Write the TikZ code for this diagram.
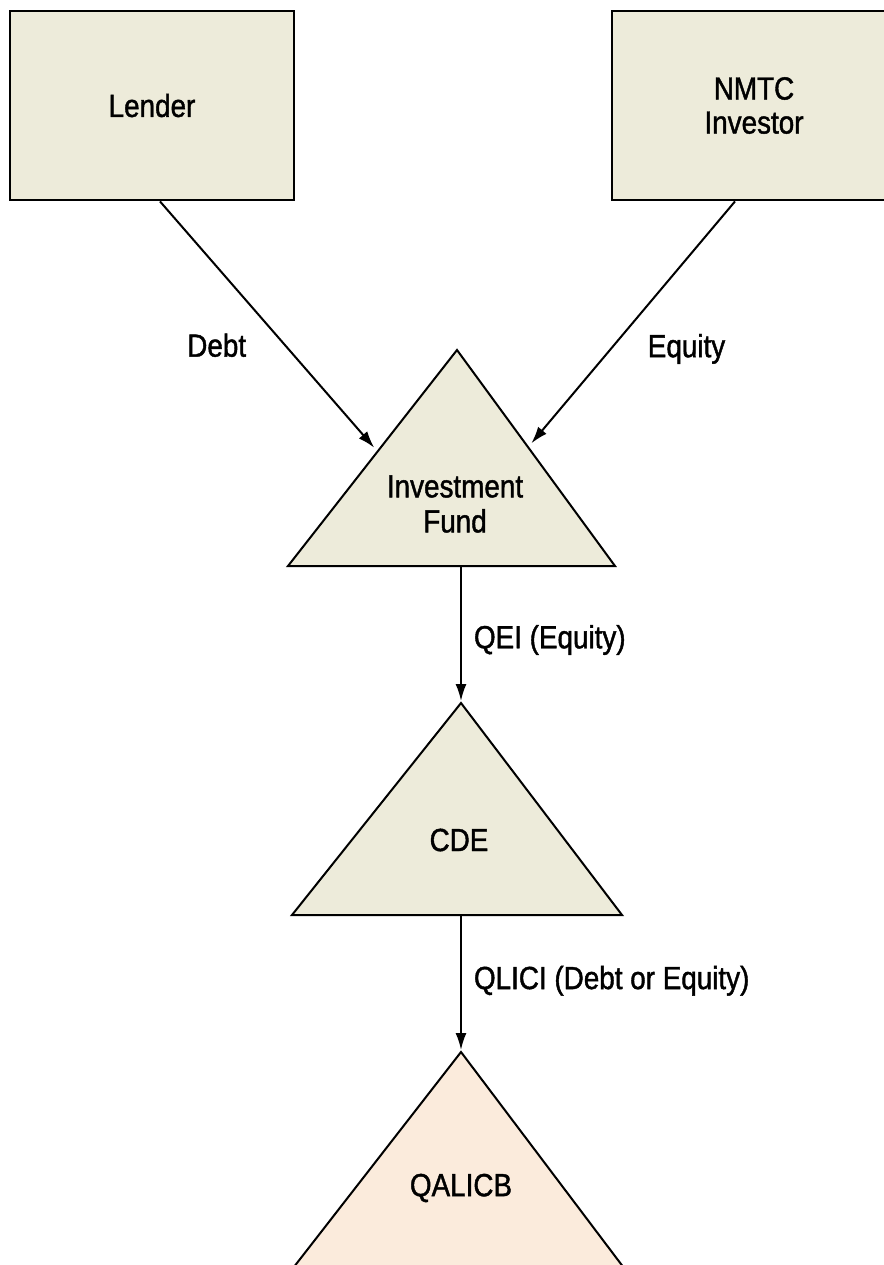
\documentclass[tikz,border=0pt]{standalone}
\usepackage{fontspec}
\setmainfont[FakeStretch=0.87,FakeBold=1.3]{Liberation Sans}
\usetikzlibrary{arrows.meta,calc,positioning}
\definecolor{partyfill}{HTML}{EDEBDA}
\definecolor{bizfill}{HTML}{FBEBDC}

\begin{document}
\begin{tikzpicture}[x=0.5pt, y=-0.5pt, line width=1pt, shorten >=1pt, >={Latex[length=8.5pt,width=5.5pt]},
	party node/.style={rectangle, draw, line width=1.4pt, fill=partyfill, minimum width=142pt, minimum height=94.5pt, align=center, font=\fontsize{16}{17}\selectfont},
	entity/.style={draw, line width=1pt, line join=miter},
	entity text/.style={align=center, font=\fontsize{16}{17.5}\selectfont},
	flow label/.style={inner sep=0pt, font=\fontsize{16}{17}\selectfont}]
	\useasboundingbox (0,0) rectangle (884,1265);

	% sources of money
	\node[party node] (lender) at (152,105.5) {Lender};
	\node[party node] (nmtc) at (754,105.5) {NMTC\\Investor};

	% investment fund
	\coordinate (fund top) at (457,350);
	\coordinate (fund left) at (288,566);
	\coordinate (fund right) at (615,566);
	\coordinate (fund base) at (461,566);
	\draw[entity, fill=partyfill] (fund top) -- (fund right) -- (fund left) -- cycle;
	\node[entity text] (fund) at (455,504) {Investment\\Fund};

	% CDE
	\coordinate (cde top) at (461,703);
	\coordinate (cde left) at (292,915);
	\coordinate (cde right) at (622,915);
	\coordinate (cde base) at (461,915);
	\draw[entity, fill=partyfill] (cde top) -- (cde right) -- (cde left) -- cycle;
	\node[entity text] (cde) at (459,840) {CDE};

	% QALICB (runs off the page)
	\coordinate (qalicb top) at (461,1052);
	\coordinate (qalicb left) at (290,1272);
	\coordinate (qalicb right) at (627,1272);
	\draw[entity, fill=bizfill] (qalicb top) -- (qalicb right) -- (qalicb left) -- cycle;
	\node[entity text] (qalicb) at (461,1188) {QALICB};

	\coordinate (debt in) at ($(fund top)!0.47!(fund left)$);
	\coordinate (equity in) at ($(fund top)!0.45!(fund right)$);

	\draw[->, shorten >=2.5pt] ([xshift=4pt]lender.south) -- node[flow label, pos=0.575, left=19pt] (debt) {Debt} (debt in);
	\draw[->, shorten >=2.5pt] ([xshift=-9.5pt]nmtc.south) -- node[flow label, pos=0.6, right=18pt] (equity) {Equity} (equity in);
	\draw[->] (fund base) -- node[flow label, pos=0.54, right=6pt] (qei) {QEI (Equity)} (cde top);
	\draw[->] (cde base) -- node[flow label, pos=0.48, right=6pt] (qlici) {QLICI (Debt or Equity)} (qalicb top);
\end{tikzpicture}
\end{document}
